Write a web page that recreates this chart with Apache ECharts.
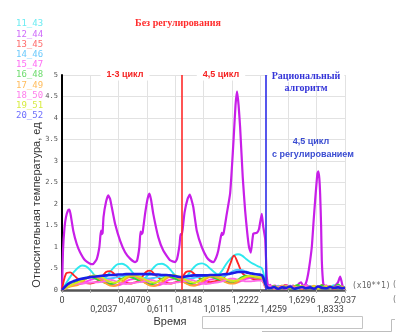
<!DOCTYPE html>
<html>
<head>
<meta charset="utf-8">
<script src="https://cdn.jsdelivr.net/npm/echarts@6/dist/echarts.min.js"></script>
<style>
  html, body { margin: 0; padding: 0; background: #fff; }
  #chart { width: 406px; height: 336px; }
</style>
</head>
<body>
<div id="chart"></div>
<script>
// Sample times (x10**1) shared by the sensor curves
const time = [0, 0.029, 0.058, 0.086, 0.115, 0.144, 0.173, 0.202, 0.230, 0.259,
  0.288, 0.317, 0.346, 0.374, 0.403, 0.432, 0.461, 0.490, 0.518, 0.547,
  0.576, 0.605, 0.634, 0.662, 0.691, 0.720, 0.749, 0.778, 0.806, 0.835,
  0.864, 0.893, 0.922, 0.950, 0.979, 1.008, 1.037, 1.066, 1.094, 1.123,
  1.152, 1.181, 1.210, 1.238, 1.267, 1.296, 1.325, 1.354, 1.382, 1.411,
  1.440, 1.469, 1.498, 1.526, 1.555, 1.584, 1.613, 1.642, 1.670, 1.699,
  1.728, 1.757, 1.786, 1.814, 1.843, 1.872, 1.901, 1.930, 1.958, 1.987,
  2.016, 2.037];

const xTickLabels = ['0', '0,2037', '0,40709', '0,6111', '0,8148', '1,0185',
  '1,2222', '1,4259', '1,6296', '1,8333', '2,037'];
const yTickLabels = ['0', '.5', '1', '1.5', '2', '2.5', '3', '3.5', '4', '4.5', '5'];

const seriesNames = ['11_43', '12_44', '13_45', '14_46', '15_47', '16_48', '17_49', '18_50', '19_51', '20_52'];
const lineColors = ['#2ee8ee', '#c81ee8', '#ff2424', '#4cc4ff', '#ff3cf4', '#2fd82f', '#ffa030', '#ff6ae6', '#d4ea1c', '#1c1ce6'];
const legendColors = ['#6cecf2', '#cf6cfa', '#ff6c6c', '#6ccafc', '#ff6cf4', '#6cdc6c', '#ffbc5c', '#ff7cec', '#d8ec40', '#6c6cff'];

// Relative temperature per sensor, one value per sample time
const s11_43 = [0, 0.15, 0.3, 0.42, 0.52, 0.57, 0.55, 0.47, 0.36, 0.27,
  0.24, 0.3, 0.42, 0.53, 0.6, 0.61, 0.57, 0.48, 0.37, 0.28,
  0.25, 0.3, 0.42, 0.53, 0.6, 0.61, 0.57, 0.48, 0.37, 0.28,
  0.25, 0.3, 0.42, 0.53, 0.6, 0.62, 0.58, 0.5, 0.42, 0.36,
  0.45, 0.6, 0.72, 0.8, 0.83, 0.8, 0.72, 0.65, 0.6, 0.55, 0.5,
  0.15, 0.08, 0.04, 0.1, 0.06, 0.12, 0.05, 0.09, 0.04, 0.07, 0.13, 0.05, 0.08, 0.06, 0.1, 0.04, 0.07, 0.11, 0.05, 0.08, 0.06];

const s13_45 = [0, 0.38, 0.41, 0.34, 0.26, 0.2, 0.16, 0.15, 0.17, 0.21,
  0.3, 0.42, 0.44, 0.38, 0.3, 0.22, 0.17, 0.15, 0.17, 0.2,
  0.3, 0.42, 0.45, 0.38, 0.3, 0.22, 0.17, 0.15, 0.17, 0.2,
  0.28, 0.42, 0.44, 0.38, 0.3, 0.24, 0.2, 0.18, 0.2, 0.22,
  0.25, 0.36, 0.6, 0.8, 0.62, 0.4, 0.32, 0.28, 0.25, 0.24, 0.22,
  0.08, 0.05, 0.1, 0.03, 0.08, 0.12, 0.04, 0.06, 0.1, 0.03, 0.07, 0.09, 0.04, 0.06, 0.11, 0.05, 0.08, 0.03, 0.09, 0.06, 0.04];

const s14_46 = [0, 0.08, 0.15, 0.2, 0.24, 0.27, 0.29, 0.3, 0.3, 0.29,
  0.28, 0.27, 0.27, 0.28, 0.3, 0.32, 0.33, 0.32, 0.3, 0.29,
  0.28, 0.27, 0.27, 0.28, 0.3, 0.32, 0.33, 0.32, 0.3, 0.29,
  0.28, 0.27, 0.27, 0.28, 0.3, 0.32, 0.33, 0.32, 0.31, 0.3,
  0.31, 0.34, 0.4, 0.45, 0.47, 0.46, 0.43, 0.4, 0.38, 0.36, 0.35,
  0.1, 0.05, 0.09, 0.04, 0.07, 0.05, 0.1, 0.06, 0.03, 0.08, 0.05, 0.09, 0.04, 0.07, 0.05, 0.1, 0.04, 0.06, 0.08, 0.05, 0.04];

const s15_47 = [0, 0.05, 0.1, 0.12, 0.13, 0.15, 0.19, 0.23, 0.26, 0.27,
  0.25, 0.2, 0.14, 0.11, 0.11, 0.14, 0.2, 0.24, 0.26, 0.27,
  0.25, 0.2, 0.14, 0.11, 0.11, 0.14, 0.2, 0.24, 0.26, 0.27,
  0.25, 0.2, 0.15, 0.12, 0.12, 0.15, 0.2, 0.24, 0.26, 0.27,
  0.26, 0.22, 0.18, 0.17, 0.18, 0.22, 0.26, 0.28, 0.29, 0.28, 0.27,
  0.06, 0.1, 0.04, 0.08, 0.05, 0.11, 0.04, 0.07, 0.09, 0.05, 0.12, 0.06, 0.04, 0.08, 0.05, 0.1, 0.06, 0.04, 0.07, 0.05, 0.03];

const s16_48 = [0, 0.06, 0.12, 0.16, 0.2, 0.24, 0.28, 0.3, 0.28, 0.24,
  0.2, 0.16, 0.14, 0.15, 0.2, 0.26, 0.3, 0.3, 0.27, 0.23,
  0.2, 0.16, 0.13, 0.15, 0.2, 0.26, 0.3, 0.3, 0.27, 0.23,
  0.2, 0.16, 0.14, 0.16, 0.21, 0.26, 0.3, 0.31, 0.28, 0.25,
  0.22, 0.19, 0.17, 0.19, 0.24, 0.3, 0.33, 0.32, 0.3, 0.28, 0.27,
  0.07, 0.04, 0.09, 0.05, 0.1, 0.06, 0.03, 0.08, 0.12, 0.05, 0.07, 0.04, 0.09, 0.06, 0.11, 0.05, 0.08, 0.04, 0.13, 0.06, 0.05];

const s17_49 = [0, 0.04, 0.08, 0.1, 0.12, 0.18, 0.26, 0.32, 0.33, 0.28,
  0.22, 0.15, 0.1, 0.09, 0.12, 0.18, 0.26, 0.32, 0.33, 0.28,
  0.22, 0.15, 0.1, 0.09, 0.12, 0.18, 0.26, 0.32, 0.33, 0.28,
  0.22, 0.15, 0.11, 0.1, 0.13, 0.19, 0.26, 0.31, 0.32, 0.28,
  0.23, 0.18, 0.15, 0.15, 0.19, 0.25, 0.3, 0.32, 0.31, 0.29, 0.27,
  0.05, 0.08, 0.03, 0.07, 0.1, 0.04, 0.06, 0.09, 0.05, 0.03, 0.08, 0.06, 0.1, 0.04, 0.07, 0.05, 0.09, 0.03, 0.06, 0.08, 0.04];

const s18_50 = [0, 0.06, 0.11, 0.14, 0.15, 0.15, 0.16, 0.17, 0.18, 0.18,
  0.19, 0.22, 0.24, 0.22, 0.18, 0.15, 0.14, 0.15, 0.17, 0.18,
  0.19, 0.22, 0.24, 0.22, 0.18, 0.15, 0.14, 0.15, 0.17, 0.18,
  0.19, 0.22, 0.24, 0.22, 0.18, 0.15, 0.14, 0.15, 0.17, 0.18,
  0.2, 0.23, 0.26, 0.26, 0.24, 0.22, 0.2, 0.2, 0.21, 0.22, 0.22,
  0.05, 0.09, 0.04, 0.06, 0.08, 0.03, 0.1, 0.05, 0.07, 0.04, 0.09, 0.06, 0.03, 0.08, 0.05, 0.11, 0.04, 0.06, 0.09, 0.05, 0.03];

const s19_51 = [0, 0.05, 0.1, 0.14, 0.18, 0.22, 0.27, 0.31, 0.34, 0.33,
  0.29, 0.23, 0.19, 0.17, 0.19, 0.24, 0.3, 0.34, 0.35, 0.32,
  0.28, 0.23, 0.19, 0.17, 0.19, 0.24, 0.3, 0.34, 0.35, 0.32,
  0.28, 0.23, 0.19, 0.17, 0.19, 0.24, 0.3, 0.33, 0.34, 0.32,
  0.29, 0.25, 0.22, 0.21, 0.23, 0.27, 0.31, 0.33, 0.32, 0.3, 0.29,
  0.06, 0.03, 0.08, 0.05, 0.04, 0.09, 0.06, 0.03, 0.07, 0.1, 0.04, 0.06, 0.08, 0.03, 0.05, 0.09, 0.04, 0.07, 0.05, 0.06, 0.03];

const s20_52 = [0, 0.1, 0.17, 0.21, 0.24, 0.26, 0.28, 0.3, 0.31, 0.32,
  0.33, 0.34, 0.35, 0.35, 0.36, 0.36, 0.37, 0.37, 0.37, 0.37,
  0.37, 0.37, 0.37, 0.36, 0.36, 0.35, 0.35, 0.34, 0.33, 0.31,
  0.3, 0.32, 0.33, 0.34, 0.34, 0.34, 0.34, 0.35, 0.35, 0.35,
  0.36, 0.37, 0.38, 0.4, 0.42, 0.42, 0.41, 0.39, 0.37, 0.36, 0.34,
  0.1, 0.04, 0.07, 0.03, 0.06, 0.05, 0.08, 0.03, 0.05, 0.07, 0.04, 0.06, 0.03, 0.08, 0.05, 0.04, 0.07, 0.05, 0.06, 0.04, 0.05];

// Sensor 12_44 has sharp peaks, so it is sampled on its own time grid
const s12_44_time = [0, 0.007, 0.018, 0.029, 0.043, 0.054, 0.065, 0.081, 0.106, 0.130,
  0.166, 0.202, 0.223, 0.250, 0.269, 0.276, 0.281, 0.286, 0.292, 0.299,
  0.317, 0.333, 0.346, 0.358, 0.382, 0.418, 0.454, 0.490, 0.526, 0.540,
  0.557, 0.565, 0.572, 0.580, 0.598, 0.616, 0.629, 0.641, 0.657, 0.693,
  0.729, 0.778, 0.814, 0.828, 0.846, 0.853, 0.860, 0.868, 0.882, 0.904,
  0.920, 0.932, 0.945, 0.970, 1.006, 1.042, 1.066, 1.089, 1.109, 1.125,
  1.141, 1.150, 1.157, 1.164, 1.186, 1.210, 1.224, 1.235, 1.249, 1.260,
  1.271, 1.282, 1.301, 1.318, 1.334, 1.346, 1.359, 1.377, 1.402, 1.418,
  1.438, 1.449, 1.462, 1.469, 1.474, 1.485, 1.498, 1.512, 1.534, 1.555,
  1.577, 1.598, 1.620, 1.642, 1.663, 1.685, 1.706, 1.721, 1.735, 1.750,
  1.764, 1.778, 1.798, 1.811, 1.822, 1.838, 1.845, 1.852, 1.858, 1.865,
  1.870, 1.881, 1.901, 1.922, 1.944, 1.966, 1.987, 2.002, 2.012, 2.023, 2.037];
const s12_44 = [0, 0.9, 1.45, 1.7, 1.85, 1.87, 1.7, 1.38, 1.07, 0.88,
  0.69, 0.61, 0.6, 0.72, 1.0, 1.25, 1.38, 1.3, 1.32, 1.7,
  2.05, 2.2, 2.12, 1.93, 1.54, 1.15, 0.88, 0.73, 0.65, 0.68,
  1.0, 1.36, 1.3, 1.33, 1.77, 2.12, 2.24, 2.1, 1.77, 1.23,
  0.92, 0.69, 0.65, 0.72, 1.05, 1.3, 1.28, 1.4, 1.8, 2.12,
  2.22, 2.1, 1.93, 1.38, 1.0, 0.76, 0.68, 0.65, 0.75, 0.92,
  1.2, 1.33, 1.28, 1.33, 1.77, 2.24, 2.9, 3.5, 4.3, 4.62,
  4.3, 3.79, 2.62, 1.85, 1.31, 1.0, 0.87, 1.31, 1.33, 1.42,
  1.77, 1.46, 1.2, 0.69, 0.3, 0.07, 0.12, 0.05, 0.1, 0.04,
  0.08, 0.03, 0.09, 0.05, 0.1, 0.06, 0.15, 0.18, 0.1, 0.12,
  0.25, 0.5, 1.0, 1.6, 2.08, 2.7, 2.76, 2.6, 2.24, 1.5,
  0.69, 0.14, 0.05, 0.08, 0.04, 0.1, 0.18, 0.31, 0.2, 0.05, 0.03];

// Phase boundaries: end of unregulated cycles 1-3, start of the rational algorithm
const phaseLines = [0.864, 1.466];
const xStep = 0.2037;

const regular = {
  '11_43': s11_43, '13_45': s13_45, '14_46': s14_46, '15_47': s15_47, '16_48': s16_48,
  '17_49': s17_49, '18_50': s18_50, '19_51': s19_51, '20_52': s20_52
};

const series = seriesNames.map((name, i) => {
  const data = name === '12_44'
    ? s12_44_time.map((t, j) => [t, s12_44[j]])
    : time.map((t, j) => [t, regular[name][j]]);
  return {
    name: name,
    type: 'line',
    data: data,
    showSymbol: false,
    smooth: name === '12_44' ? 0.15 : 0.35,
    lineStyle: { color: lineColors[i], width: name === '20_52' ? 2.6 : (name === '12_44' ? 2.2 : 1.9) },
    itemStyle: { color: lineColors[i] },
    z: name === '20_52' ? 4 : 2
  };
});

series.push({
  name: 'phases',
  type: 'line',
  data: [],
  markLine: {
    silent: true,
    symbol: ['none', 'none'],
    label: { show: false },
    animation: false,
    data: [
      { xAxis: phaseLines[0], lineStyle: { color: '#ff2a2a', width: 1.6, type: 'solid' } },
      { xAxis: phaseLines[1], lineStyle: { color: '#2c2ce8', width: 1.6, type: 'solid' } }
    ]
  }
});

// Tick labels are staggered on two rows: even ticks on the first, odd ticks on the second
const xLabelBase = {
  color: '#444',
  fontFamily: 'Liberation Sans Narrow, Roboto, sans-serif',
  fontSize: 9,
  align: 'left',
  alignMinLabel: 'center',
  alignMaxLabel: 'center',
  showMinLabel: true,
  showMaxLabel: true
};

const chart = echarts.init(document.getElementById('chart'), null, { renderer: 'canvas' });

chart.setOption({
  animation: false,
  backgroundColor: '#ffffff',
  grid: { left: 62, right: 61, top: 75, bottom: 46, containLabel: false },
  legend: {
    orient: 'vertical',
    left: 5,
    top: 14,
    itemWidth: 0,
    itemHeight: 0,
    itemGap: 0,
    selectedMode: false,
    itemStyle: { opacity: 0 },
    lineStyle: { opacity: 0 },
    textStyle: { fontFamily: 'DejaVu Sans Mono', fontSize: 9, lineHeight: 10.2 },
    data: seriesNames.map((n, i) => ({ name: n, textStyle: { color: legendColors[i] } }))
  },
  xAxis: [
    {
      type: 'value',
      position: 'bottom',
      min: 0,
      max: 2.037,
      interval: xStep,
      axisLine: { show: true, lineStyle: { color: '#555', width: 2.5 } },
      axisTick: { show: true, length: 3, lineStyle: { color: '#aaa' } },
      splitLine: { show: true, lineStyle: { color: '#e2e2e2', width: 1 } },
      axisLabel: Object.assign({}, xLabelBase, {
        margin: 6,
        formatter: function (v) {
          const i = Math.round(v / xStep);
          return i % 2 ? '' : (xTickLabels[i] || '');
        }
      })
    },
    {
      type: 'value',
      position: 'bottom',
      offset: 0,
      min: 0,
      max: 2.037,
      interval: xStep,
      axisLine: { show: false },
      axisTick: { show: false },
      splitLine: { show: false },
      axisLabel: Object.assign({}, xLabelBase, {
        margin: 15.5,
        formatter: function (v) {
          const i = Math.round(v / xStep);
          return i % 2 ? (xTickLabels[i] || '') : '';
        }
      })
    }
  ],
  yAxis: {
    type: 'value',
    min: 0,
    max: 5,
    interval: 0.5,
    axisLine: { show: true, lineStyle: { color: '#000', width: 2 } },
    axisTick: { show: false },
    splitLine: { show: true, lineStyle: { color: '#e2e2e2', width: 1 } },
    axisLabel: {
      color: '#555',
      fontFamily: 'DejaVu Sans Mono',
      fontSize: 7,
      margin: 4,
      formatter: function (v) { return yTickLabels[Math.round(v / 0.5)]; }
    }
  },
  series: series,
  graphic: [
    { type: 'text', x: 178, y: 23, z: 100,
      style: { text: 'Без регулирования', fill: '#ff2c2c', font: 'bold 10px "Liberation Serif", serif', align: 'center', verticalAlign: 'middle' } },
    { type: 'text', x: 125, y: 75, z: 100,
      style: { text: '1-3 цикл', fill: '#f52222', font: 'bold 9px "Liberation Sans", Arial, sans-serif', align: 'center', verticalAlign: 'middle', backgroundColor: '#fff', padding: [1, 6] } },
    { type: 'text', x: 221, y: 75, z: 100,
      style: { text: '4,5 цикл', fill: '#f52222', font: 'bold 9px "Liberation Sans", Arial, sans-serif', align: 'center', verticalAlign: 'middle', backgroundColor: '#fff', padding: [1, 6] } },
    { type: 'text', x: 306, y: 76, z: 100,
      style: { text: 'Рациональный', fill: '#3434d8', font: 'bold 10px "Liberation Serif", serif', align: 'center', verticalAlign: 'middle', backgroundColor: '#fff', padding: [1, 4] } },
    { type: 'text', x: 306, y: 88.5, z: 100,
      style: { text: 'алгоритм', fill: '#3434d8', font: 'bold 10px "Liberation Serif", serif', align: 'center', verticalAlign: 'middle' } },
    { type: 'text', x: 311, y: 142, z: 100,
      style: { text: '4,5 цикл', fill: '#3a4cd2', font: 'bold 9px "Liberation Sans", Arial, sans-serif', align: 'center', verticalAlign: 'middle' } },
    { type: 'text', x: 313, y: 155, z: 100,
      style: { text: 'с регулированием', fill: '#3a4cd2', font: 'bold 9px "Liberation Sans", Arial, sans-serif', align: 'center', verticalAlign: 'middle' } },
    { type: 'text', x: 37, y: 205, rotation: Math.PI / 2, z: 100,
      style: { text: 'Относительная температура, ед', fill: '#333', font: '11px "Liberation Sans", Arial, sans-serif', align: 'center', verticalAlign: 'middle' } },
    { type: 'text', x: 170, y: 322, z: 100,
      style: { text: 'Время', fill: '#333', font: '11px "Liberation Sans", Arial, sans-serif', align: 'center', verticalAlign: 'middle' } },
    { type: 'text', x: 352, y: 286, z: 100,
      style: { text: '(x10**1)', fill: '#666', font: '8px "DejaVu Sans Mono", monospace', align: 'left', verticalAlign: 'middle' } },
    { type: 'text', x: 392, y: 285, z: 100,
      style: { text: '(', fill: '#777', font: '8px "DejaVu Sans Mono", monospace', align: 'left', verticalAlign: 'middle' } },
    { type: 'text', x: 392, y: 300, z: 100,
      style: { text: '(', fill: '#777', font: '8px "DejaVu Sans Mono", monospace', align: 'left', verticalAlign: 'middle' } },
    { type: 'rect', z: 100, shape: { x: 202.5, y: 316.5, width: 160, height: 12 },
      style: { fill: '#fff', stroke: '#c4c4c4', lineWidth: 1 } },
    { type: 'polyline', z: 100, shape: { points: [[262, 331.5], [391.5, 331.5], [391.5, 319.5], [395, 319.5]] },
      style: { fill: null, stroke: '#bdbdbd', lineWidth: 1 } }
  ]
});
</script>
</body>
</html>
